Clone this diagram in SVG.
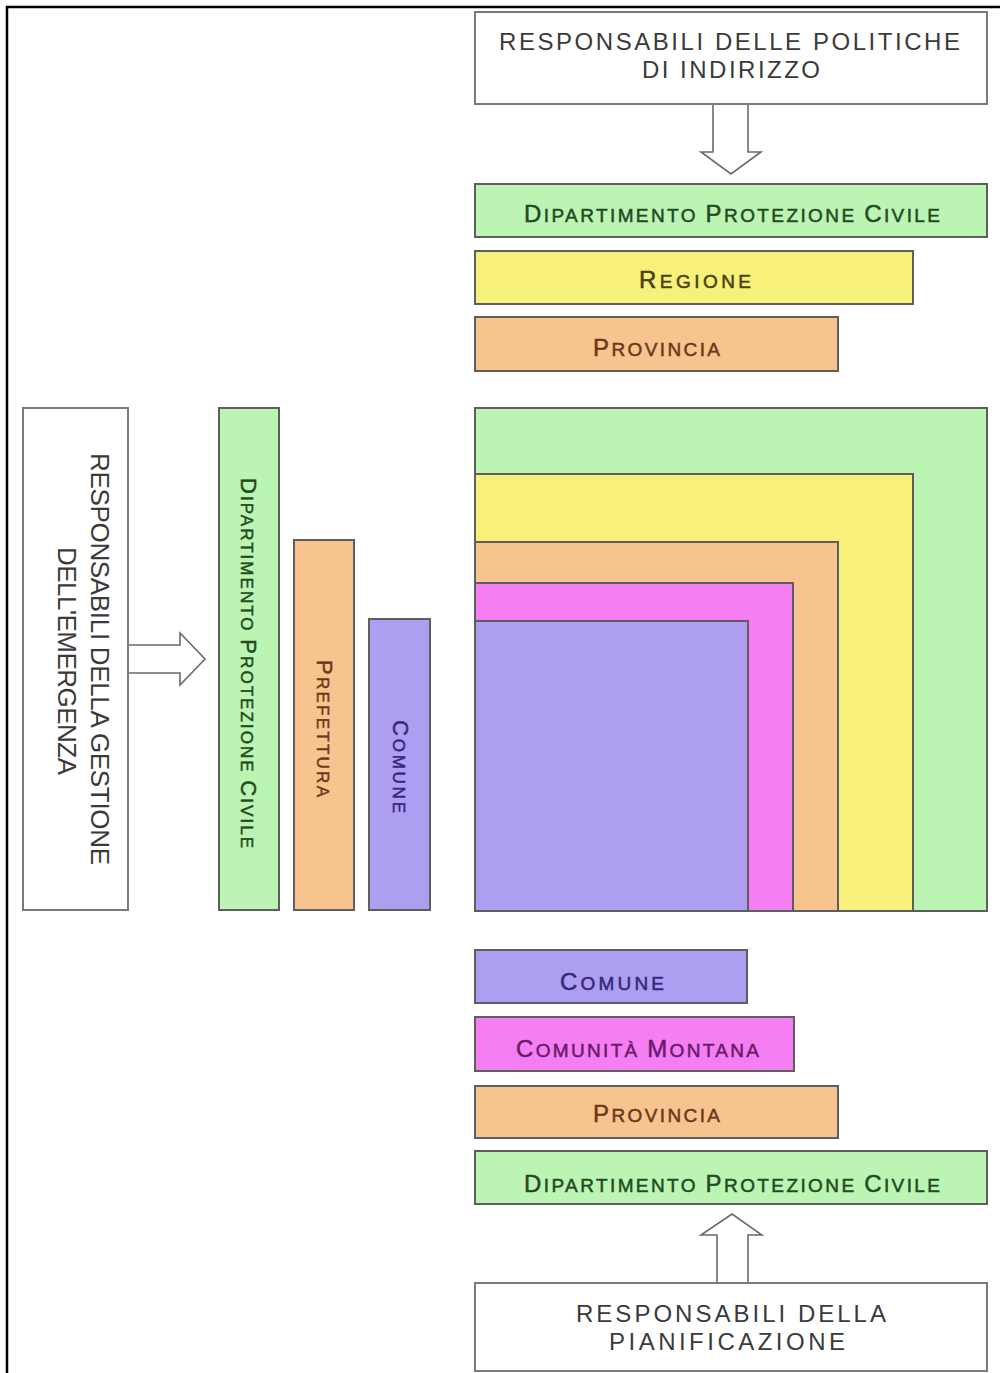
<svg xmlns="http://www.w3.org/2000/svg" width="1000" height="1373" viewBox="0 0 1000 1373">
<style>
text{font-family:"Liberation Sans",Arial,sans-serif}
.wbox{fill:#fff;stroke:#7a7a7a;stroke-width:2}
.box{stroke:#5e5e5e;stroke-width:2}
.green{fill:#bcf5b3}
.yellow{fill:#f7f07a}
.orange{fill:#f7c48f}
.pink{fill:#f57ff2}
.purple{fill:#ad9ef2}
.arrow{fill:#fff;stroke:#6a6a6a;stroke-width:1.6;stroke-linejoin:miter}
.title{font-size:24px;fill:#3a3a3a}
.vtitle{font-size:26px;fill:#3a3a3a}
.sc{stroke-width:0.5}
.b{font-size:24px}
.s{font-size:19px}
.vb{font-size:22px}
.vs{font-size:17px}
.tg{fill:#234a23;stroke:#234a23}
.ty{fill:#4a4010;stroke:#4a4010}
.to{fill:#6a3a18;stroke:#6a3a18}
.tp{fill:#6a1a6a;stroke:#6a1a6a}
.tv{fill:#36287a;stroke:#36287a}
</style>
<path d="M7,1373 V7 H1000" fill="none" stroke="#000" stroke-width="2.5"/>

<g id="connectors">
<path class="arrow" d="M713,104 V152 H701 L731,174 L761,152 H748 V104"/>
<path class="arrow" d="M717,1283 V1235 H701 L732,1214 L762,1235 H748 V1283"/>
<path class="arrow" d="M128,645 H180 V633 L205,659 L180,685 V673 H128"/>
</g>

<g id="top-responsabili">
<rect class="wbox" x="475" y="12" width="512" height="92"/>
<text class="title" x="499" y="50" textLength="461" lengthAdjust="spacing">RESPONSABILI DELLE POLITICHE</text>
<text class="title" x="642" y="78" textLength="178" lengthAdjust="spacing">DI INDIRIZZO</text>
</g>

<g id="top-dipartimento">
<rect class="box green" x="475" y="184" width="512" height="53"/>
<text class="sc tg" x="524" y="222" textLength="416" lengthAdjust="spacing"><tspan class="b">D</tspan><tspan class="s">IPARTIMENTO </tspan><tspan class="b">P</tspan><tspan class="s">ROTEZIONE </tspan><tspan class="b">C</tspan><tspan class="s">IVILE</tspan></text>
</g>

<g id="top-regione">
<rect class="box yellow" x="475" y="251" width="438" height="53"/>
<text class="sc ty" x="639" y="288" textLength="112" lengthAdjust="spacing"><tspan class="b">R</tspan><tspan class="s">EGIONE</tspan></text>
</g>

<g id="top-provincia">
<rect class="box orange" x="475" y="317" width="363" height="54"/>
<text class="sc to" x="593" y="356" textLength="127" lengthAdjust="spacing"><tspan class="b">P</tspan><tspan class="s">ROVINCIA</tspan></text>
</g>

<g id="nested">
<rect class="box green" x="475" y="408" width="512" height="503"/>
<rect class="box yellow" x="475" y="474" width="438" height="437"/>
<rect class="box orange" x="475" y="542" width="363" height="369"/>
<rect class="box pink" x="475" y="583" width="318" height="328"/>
<rect class="box purple" x="475" y="621" width="273" height="290"/>
</g>

<g id="left-responsabili">
<rect class="wbox" x="23" y="408" width="105" height="502"/>
<text class="vtitle" transform="translate(91,453) rotate(90)" x="0" y="0" textLength="412" lengthAdjust="spacing">RESPONSABILI DELLA GESTIONE</text>
<text class="vtitle" transform="translate(58,547) rotate(90)" x="0" y="0" textLength="228" lengthAdjust="spacing">DELL'EMERGENZA</text>
</g>

<g id="col-dipartimento">
<rect class="box green" x="219" y="408" width="60" height="502"/>
<text class="sc tg" transform="translate(241,478) rotate(90)" x="0" y="0" textLength="370" lengthAdjust="spacing"><tspan class="vb">D</tspan><tspan class="vs">IPARTIMENTO </tspan><tspan class="vb">P</tspan><tspan class="vs">ROTEZIONE </tspan><tspan class="vb">C</tspan><tspan class="vs">IVILE</tspan></text>
</g>

<g id="col-prefettura">
<rect class="box orange" x="294" y="540" width="60" height="370"/>
<text class="sc to" transform="translate(317,660) rotate(90)" x="0" y="0" textLength="137" lengthAdjust="spacing"><tspan class="vb">P</tspan><tspan class="vs">REFETTURA</tspan></text>
</g>

<g id="col-comune">
<rect class="box purple" x="369" y="619" width="61" height="291"/>
<text class="sc tv" transform="translate(393,720) rotate(90)" x="0" y="0" textLength="93" lengthAdjust="spacing"><tspan class="vb">C</tspan><tspan class="vs">OMUNE</tspan></text>
</g>

<g id="bottom-comune">
<rect class="box purple" x="475" y="950" width="272" height="53"/>
<text class="sc tv" x="560" y="990" textLength="104" lengthAdjust="spacing"><tspan class="b">C</tspan><tspan class="s">OMUNE</tspan></text>
</g>

<g id="bottom-comunita">
<rect class="box pink" x="475" y="1017" width="319" height="54"/>
<text class="sc tp" x="516" y="1057" textLength="243" lengthAdjust="spacing"><tspan class="b">C</tspan><tspan class="s">OMUNITÀ </tspan><tspan class="b">M</tspan><tspan class="s">ONTANA</tspan></text>
</g>

<g id="bottom-provincia">
<rect class="box orange" x="475" y="1086" width="363" height="52"/>
<text class="sc to" x="593" y="1122" textLength="127" lengthAdjust="spacing"><tspan class="b">P</tspan><tspan class="s">ROVINCIA</tspan></text>
</g>

<g id="bottom-dipartimento">
<rect class="box green" x="475" y="1151" width="512" height="53"/>
<text class="sc tg" x="524" y="1192" textLength="416" lengthAdjust="spacing"><tspan class="b">D</tspan><tspan class="s">IPARTIMENTO </tspan><tspan class="b">P</tspan><tspan class="s">ROTEZIONE </tspan><tspan class="b">C</tspan><tspan class="s">IVILE</tspan></text>
</g>

<g id="bottom-responsabili">
<rect class="wbox" x="475" y="1283" width="512" height="88"/>
<text class="title" x="576" y="1322" textLength="310" lengthAdjust="spacing">RESPONSABILI DELLA</text>
<text class="title" x="609" y="1350" textLength="236" lengthAdjust="spacing">PIANIFICAZIONE</text>
</g>
</svg>
